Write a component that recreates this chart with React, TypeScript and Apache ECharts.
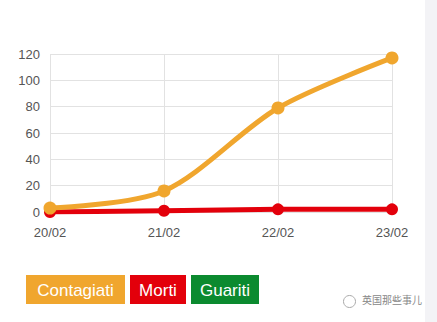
import React, { useEffect, useRef } from "react";
import * as echarts from "echarts";

const categories = ["20/02", "21/02", "22/02", "23/02"];
const contagiati = [3, 16, 79, 117];
const morti = [0, 1, 2, 2];
const guariti: number[] = [];
const yTicks = { min: 0, max: 120, interval: 20 };

const ORANGE = "#f0a62e";
const RED = "#e3000b";
const GREEN = "#0b8a2f";

export default function App() {
  const ref = useRef<HTMLDivElement>(null);
  useEffect(() => {
    if (!ref.current) return;
    const chart = echarts.init(ref.current, null, { renderer: "svg" });
    const font = "Liberation Sans, Arial, sans-serif";
    const legendItems = [
      { name: "Contagiati", color: ORANGE, x: 26, w: 99 },
      { name: "Morti", color: RED, x: 130, w: 56 },
      { name: "Guariti", color: GREEN, x: 191, w: 68 },
    ];
    chart.setOption({
      animation: false,
      backgroundColor: "#ffffff",
      grid: { left: 50, right: 45, top: 54, bottom: 110, containLabel: false },
      xAxis: {
        type: "category",
        data: categories,
        boundaryGap: false,
        axisLine: { show: false },
        axisTick: { show: false },
        axisLabel: { color: "#555", fontSize: 13, fontFamily: font, margin: 14 },
        splitLine: { show: true, lineStyle: { color: "#e2e2e2", width: 1 } },
      },
      yAxis: {
        type: "value",
        min: yTicks.min,
        max: yTicks.max,
        interval: yTicks.interval,
        axisLine: { show: false },
        axisTick: { show: false },
        axisLabel: { color: "#555", fontSize: 13, fontFamily: font, margin: 10 },
        splitLine: { show: true, lineStyle: { color: "#e2e2e2", width: 1 } },
      },
      series: [
        {
          name: "Guariti",
          type: "line",
          data: guariti,
          z: 1,
          symbol: "circle",
          symbolSize: 12,
          lineStyle: { color: GREEN, width: 5 },
          itemStyle: { color: GREEN },
        },
        {
          name: "Morti",
          type: "line",
          data: morti,
          z: 2,
          symbol: "circle",
          symbolSize: 12,
          lineStyle: { color: RED, width: 5 },
          itemStyle: { color: RED },
        },
        {
          name: "Contagiati",
          type: "line",
          data: contagiati,
          z: 3,
          smooth: 0.3,
          symbol: "circle",
          symbolSize: 13,
          lineStyle: { color: ORANGE, width: 5 },
          itemStyle: { color: ORANGE },
        },
      ],
      graphic: [
        ...legendItems.map((it) => ({
          type: "group",
          left: it.x,
          top: 275,
          children: [
            { type: "rect", shape: { x: 0, y: 0, width: it.w, height: 29 }, style: { fill: it.color } },
            {
              type: "text",
              x: it.w / 2,
              y: 15,
              style: {
                text: it.name,
                fill: "#ffffff",
                font: "17px " + font,
                align: "center",
                verticalAlign: "middle",
              },
            },
          ],
        })),
        {
          type: "circle",
          left: 341,
          top: 293,
          shape: { r: 6 },
          style: { fill: "none", stroke: "#aaa", lineWidth: 1 },
        },
        {
          type: "text",
          left: 362,
          top: 294,
          style: { text: "英国那些事儿", fill: "#888", font: "10px Noto Sans CJK SC" },
        },
        {
          type: "rect",
          left: 425,
          top: 0,
          shape: { width: 12, height: 322 },
          style: { fill: "#f3f3f6" },
        },
      ],
    });
    return () => chart.dispose();
  }, []);
  return <div ref={ref} style={{ width: 437, height: 322, position: "absolute", left: 0, top: 0 }} />;
}
